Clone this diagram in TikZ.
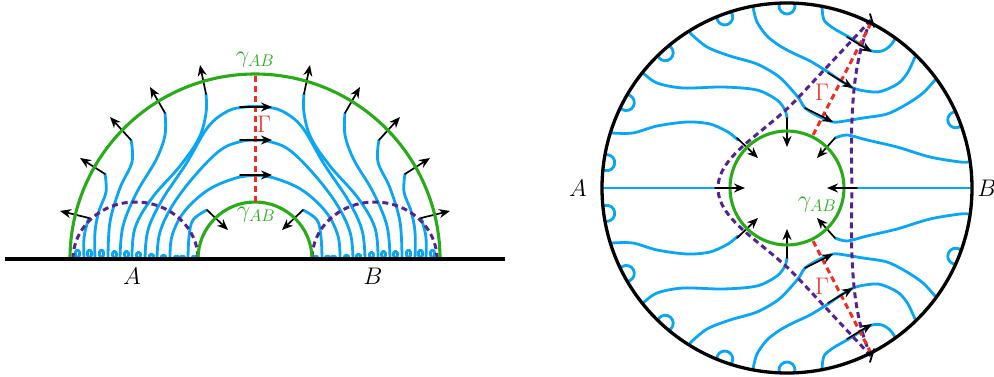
\RequirePackage{fix-cm}
\documentclass[tikz,border=0pt]{standalone}
\usetikzlibrary{arrows.meta}
\definecolor{bitblue}{RGB}{10,165,245}
\definecolor{wallgreen}{RGB}{40,170,25}
\definecolor{cutred}{RGB}{240,45,35}
\definecolor{ewpurple}{RGB}{85,35,145}
\tikzset{
  bit/.style={bitblue, line width=2.8pt},
  wall/.style={wallgreen, line width=3.1pt},
  bdry/.style={black, line width=3.3pt},
  flux/.style={->, line width=1.7pt},
  cut/.style={cutred, line width=3pt, line cap=butt, dash pattern=on 6pt off 4pt},
  ew/.style={ewpurple, line width=3pt, line cap=butt, dash pattern=on 6pt off 4pt},
}
\begin{document}
\begin{tikzpicture}[x=1pt, y=-1pt, line join=round, line cap=round,
    >={Stealth[length=11pt,width=9pt]}, font=\fontsize{24}{28}\selectfont]
\useasboundingbox (0,0) rectangle (994,377);

% ---- left: half plane ----
\foreach \m in {1,-1}{
  \begin{scope}[shift={({255-255*\m},0)}, xscale=\m]
    % threads
    \draw[bit] plot[smooth, tension=0.6] coordinates {(84,259) (84,238) (87,224) (89,218)};
    \draw[bit] plot[smooth, tension=0.6] coordinates {(95,259) (95,232) (99,211) (106,192) (105,174)};
    \draw[bit] plot[smooth, tension=0.6] coordinates {(108,259) (110,222) (120,188) (132,162) (131,140)};
    \draw[bit] plot[smooth, tension=0.6] coordinates {(120,259) (123,226) (137,192) (156,160) (165,135) (165,113)};
    \draw[bit] plot[smooth, tension=0.6] coordinates {(132,259) (135,228) (152,198) (180,166) (199,138) (206,113) (206,94)};
    \draw[bit] plot[smooth, tension=0.6] coordinates {(145,259) (148,230) (162,200) (186,164) (208,127) (228,111) (245,107) (255,106.5)};
    \draw[bit] plot[smooth, tension=0.6] coordinates {(157,259) (160,232) (174,203) (198,172) (222,149) (243,141) (255,140.5)};
    \draw[bit] plot[smooth, tension=0.6] coordinates {(170,259) (172,236) (184,212) (208,190) (236,178) (255,175.5)};
    \draw[bit] plot[smooth, tension=0.6] coordinates {(188,259) (189,237) (193,220) (207,210)};
    % small loops on the boundary
    \foreach \x/\h in {77/9,89/9,101/9,114/8,126/8,138/7,151/5,163/4,176/3,182/3,194/3}
      \draw[bit] (\x,259) .. controls (\x-6,259-1.3*\h) and (\x+7,259-1.3*\h) .. (\x+1,259);
    % entanglement wedge
    \draw[ew] (73,259) arc[start angle=180, end angle=360, x radius=62.5, y radius=57];
    % outgoing flux
    \draw[flux] (89,218) -- (60,211);
    \draw[flux] (105,174) -- (80,158);
    \draw[flux] (131,140) -- (110,117);
    \draw[flux] (165,113) -- (150,87);
    \draw[flux] (206,94) -- (200,65);
    \draw[flux] (207,210) -- (228,230);
  \end{scope}
}
\draw[wall] (70,259) arc[start angle=180, end angle=360, radius=185];
\draw[wall] (198,259) arc[start angle=180, end angle=360, radius=57];
\draw[cut] (255,76) -- (255,203);
\draw[flux] (240,107) -- (272,107);
\draw[flux] (240,140) -- (272,140);
\draw[flux] (240,175) -- (272,175);
\draw[black, line width=3.6pt, line cap=butt] (5,259) -- (505,259);
\node[wallgreen] (gOut) at (255,60) {$\gamma_{AB}$};
\node[wallgreen] (gIn) at (256,215) {$\gamma_{AB}$};
\node[cutred] (cutL) at (264,124) {$\Gamma$};
\node (labA) at (132,276) {$A$};
\node (labB) at (373,276) {$B$};

% ---- right: global disk ----
\foreach \m in {1,-1}{
  \begin{scope}[shift={(0,{188-188*\m})}, yscale=\m]
    % threads
    \draw[bit] plot[smooth] coordinates {(822,7) (824,20) (833,28) (847,36) (860,44) (872,51) (882,51) (890,46) (895,39)};
    \draw[bit] plot[smooth] coordinates {(753,7) (757,22) (767,36) (780,46) (795,54) (810,61) (828,72) (841,81) (853,88) (865,91) (878,92) (890,88) (900,82) (908,72) (915,57)};
    \draw[bit] plot[smooth] coordinates {(690,33) (707,47) (730,56) (757,64) (778,76) (791,89) (800,100) (805,108) (818,116) (833,122) (845,121) (863,118) (887,114) (907,104) (923,93) (935,80)};
    \draw[bit] plot[smooth] coordinates {(643,73) (657,83) (683,88) (723,87) (757,90) (777,100) (785,110) (787,118)};
    \draw[bit] plot[smooth] coordinates {(612,133) (633,133) (657,126) (687,122) (710,124) (728,132) (738,140)};
    \draw[bit] plot[smooth] coordinates {(968,162) (960,162) (930,157) (897,147) (867,140) (847,135) (835,138)};
    % small loops on the boundary
    \foreach \a in {90,110,132,152,172,22}
      \draw[bit, shift={(787,188)}, rotate=\a] (182,0) ++(68:8) arc[start angle=68, end angle=292, radius=8];
    % cut and wedge
    \draw[ew] (871,20) -- (797,99) .. controls (765,133) and (718,155) .. (718,188);
    \draw[ew] (871,20) .. controls (853,60) and (850,110) .. (852,188);
    \draw[cut] (871,23) -- (812,137);
    % flux
    \draw[flux] (847,37) -- (872,52);
    \draw[flux] (828,73) -- (853,88);
    \draw[flux] (805,108) -- (833,122);
    \draw[flux] (787,118) -- (787,147);
    \draw[flux] (737,138) -- (758,158);
    \draw[flux] (835,138) -- (817,158);
    \draw[black, line width=1.8pt] (870,14) -- (874,27);
  \end{scope}
}
\draw[bit] (602,188) -- (715,188);
\draw[bit] (857,188) -- (972,188);
\draw[wall] (787,188) circle[radius=57];
\draw[bdry] (787,188) circle[radius=185];
\draw[flux] (715,188) -- (745,188);
\draw[flux] (857,188) -- (827,188);
\node (labA2) at (578,188) {$A$};
\node (labB2) at (987,188) {$B$};
\node[wallgreen] (gIn2) at (817,205) {$\gamma_{AB}$};
\node[cutred] (cutU) at (822,92) {$\Gamma$};
\node[cutred] (cutD) at (822,286) {$\Gamma$};
\end{tikzpicture}
\end{document}
